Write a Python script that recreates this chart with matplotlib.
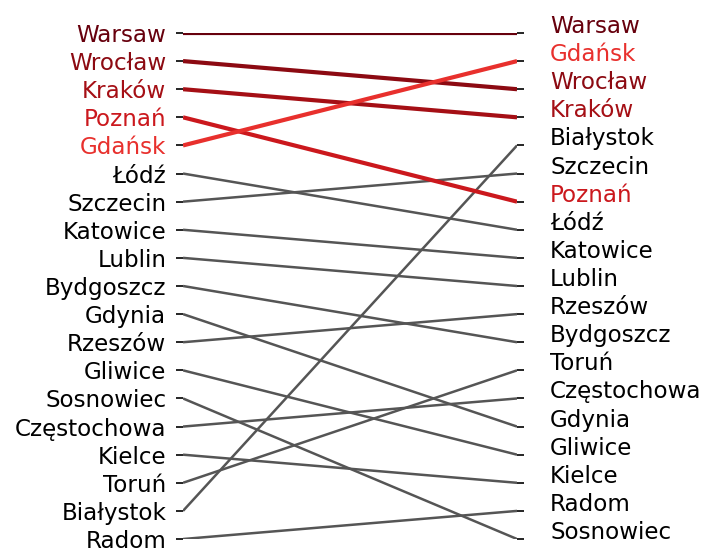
import matplotlib
matplotlib.use("Agg")
import matplotlib.pyplot as plt
import matplotlib.transforms as mtransforms

# rankings, position 1 = top
left_order = ["Warsaw", "Wrocław", "Kraków", "Poznań", "Gdańsk", "Łódź", "Szczecin",
              "Katowice", "Lublin", "Bydgoszcz", "Gdynia", "Rzeszów", "Gliwice",
              "Sosnowiec", "Częstochowa", "Kielce", "Toruń", "Białystok", "Radom"]
right_order = ["Warsaw", "Gdańsk", "Wrocław", "Kraków", "Białystok", "Szczecin", "Poznań",
               "Łódź", "Katowice", "Lublin", "Rzeszów", "Bydgoszcz", "Toruń",
               "Częstochowa", "Gdynia", "Gliwice", "Kielce", "Radom", "Sosnowiec"]

highlight = {"Warsaw": "#67000d", "Wrocław": "#8c0a12", "Kraków": "#a50f15",
             "Poznań": "#cb181d", "Gdańsk": "#e8302d"}
grey = "#555555"

fig = plt.figure(figsize=(7.18, 5.58), dpi=100)
ax = fig.add_axes([0.2549, 0.034, 0.4652, 0.9069])

n = len(left_order)
# grey lines first, highlighted ones on top
for city in left_order:
    if city in highlight:
        continue
    ax.plot([0, 1], [left_order.index(city) + 1, right_order.index(city) + 1],
            color=grey, lw=1.8, solid_capstyle="butt", zorder=2)
for city in left_order:
    if city not in highlight:
        continue
    ax.plot([0, 1], [left_order.index(city) + 1, right_order.index(city) + 1],
            color=highlight[city], lw=3, solid_capstyle="butt", zorder=3)

ax.set_xlim(0, 1)
ax.set_ylim(n, 1)
for s in ax.spines.values():
    s.set_visible(False)
ax.set_xticks([])

ax.set_yticks(range(1, n + 1))
ax.set_yticklabels(left_order, fontsize=16.6)
ax.tick_params(axis="y", left=True, right=True, length=5, width=1.2, pad=7)
for lab, city in zip(ax.get_yticklabels(), left_order):
    lab.set_color(highlight.get(city, "black"))

# right-hand labels, shifted right and nudged up a little
trans = mtransforms.blended_transform_factory(ax.transAxes, ax.transData) + \
    mtransforms.ScaledTranslation(33 / 100, 9 / 100, fig.dpi_scale_trans)
for i, city in enumerate(right_order):
    ax.text(1.0, i + 1, city, transform=trans, fontsize=16.6, ha="left",
            va="center_baseline", color=highlight.get(city, "black"),
            clip_on=False)

fig.savefig("out.png", dpi=100)
